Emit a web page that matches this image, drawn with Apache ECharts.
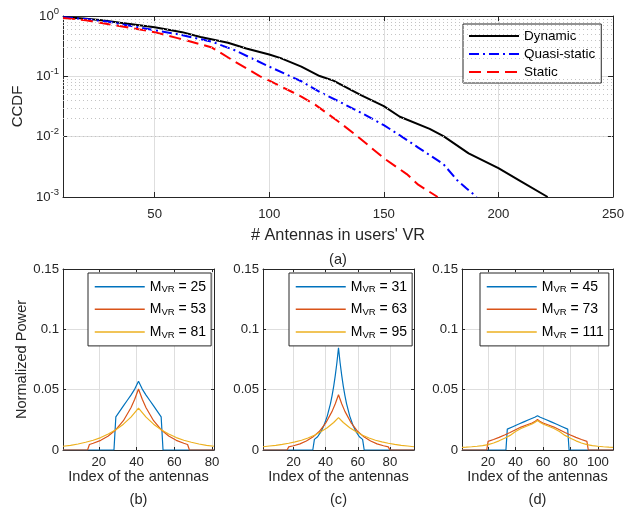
<!DOCTYPE html>
<html><head><meta charset="utf-8">
<script src="https://cdn.jsdelivr.net/npm/echarts@6/dist/echarts.min.js"></script>
<style>html,body{margin:0;padding:0;background:#fff}#c{width:625px;height:509px}</style>
</head><body><div id="c"></div>
<script>
// ---------- Panel (a): CCDF ----------
const topXTicks = [50, 100, 150, 200, 250];
const ccdfMinorGrid = [0.002,0.003,0.004,0.005,0.006,0.007,0.008,0.009,0.02,0.03,0.04,0.05,0.06,0.07,0.08,0.09,0.2,0.3,0.4,0.5,0.6,0.7,0.8,0.9];
const dynX = [10, 20, 26, 35, 50, 62, 70, 82, 90, 100, 105, 114, 122, 128, 140, 150, 157, 170, 176, 187, 200, 210, 221.5];
const dynY = [0.96, 0.9, 0.86, 0.77, 0.65, 0.54, 0.45, 0.36, 0.29, 0.23, 0.2, 0.145, 0.101, 0.085, 0.049, 0.032, 0.0214, 0.0135, 0.0102, 0.0053, 0.003, 0.0018, 0.001];
const qsX = [10, 20, 30, 40, 50, 60, 75, 85, 100, 110, 114, 122, 130, 140, 150, 157, 165, 176, 182, 186, 190.5];
const qsY = [0.95, 0.89, 0.8, 0.68, 0.58, 0.5, 0.375, 0.27, 0.145, 0.097, 0.083, 0.055, 0.039, 0.025, 0.0155, 0.0105, 0.0066, 0.0035, 0.0019, 0.0014, 0.001];
const stX = [10, 20, 30, 40, 50, 60, 70, 75, 85, 96, 100, 110, 114, 120, 130, 138, 150, 160, 165, 173.5];
const stY = [0.93, 0.85, 0.73, 0.63, 0.54, 0.43, 0.34, 0.3, 0.175, 0.1, 0.085, 0.055, 0.046, 0.034, 0.018, 0.0105, 0.0044, 0.0024, 0.0016, 0.001];

// ---------- Panels (b),(c),(d): normalized power ----------
const bTicks = [20, 40, 60, 80];
const cTicks = [20, 40, 60, 80];
const dTicks = [20, 40, 60, 80, 100];

const bBlueX = [1, 28, 29, 31, 33, 35, 37, 39, 41, 43, 45, 47, 49, 51, 53, 54, 81];
const bBlueY = [0, 0, 0.0275, 0.032, 0.0365, 0.041, 0.0455, 0.0505, 0.057, 0.0505, 0.0455, 0.041, 0.0365, 0.032, 0.0275, 0, 0];
const bRedX = [1, 14, 15, 17, 21, 25, 29, 33, 37, 39, 41, 43, 45, 49, 53, 57, 61, 65, 67, 68, 81];
const bRedY = [0, 0, 0.0046, 0.0056, 0.008, 0.0116, 0.0168, 0.0243, 0.035, 0.042, 0.0505, 0.042, 0.035, 0.0243, 0.0168, 0.0116, 0.008, 0.0056, 0.0046, 0, 0];
const bYelX = [1,5,9,13,17,21,25,29,33,37,41,45,49,53,57,61,65,69,73,77,81];
const bYelY = [0.0031,0.0039,0.005,0.0064,0.0081,0.0103,0.0132,0.0168,0.0214,0.0272,0.0347,0.0272,0.0214,0.0168,0.0132,0.0103,0.0081,0.0064,0.005,0.0039,0.0031];

const cBlueX = [1, 32, 33, 35, 37, 39, 41, 43, 44, 45, 46, 47, 48, 49, 50, 51, 52, 53, 55, 57, 59, 61, 63, 64, 95];
const cBlueY = [0, 0, 0.0088, 0.011, 0.015, 0.0205, 0.0281, 0.0385, 0.0451, 0.0528, 0.0618, 0.0723, 0.0847, 0.0723, 0.0618, 0.0528, 0.0451, 0.0385, 0.0281, 0.0205, 0.015, 0.011, 0.0088, 0, 0];
const cRedX = [1, 16, 17, 20, 24, 28, 32, 36, 40, 44, 46, 48, 50, 52, 56, 60, 64, 68, 72, 76, 79, 80, 95];
const cRedY = [0, 0, 0.0026, 0.0035, 0.0051, 0.0074, 0.0107, 0.0153, 0.0222, 0.032, 0.0383, 0.0458, 0.0383, 0.032, 0.0222, 0.0153, 0.0107, 0.0074, 0.0051, 0.0035, 0.0026, 0, 0];
const cYelX = [1,5,9,13,17,21,25,29,33,37,41,45,48,51,55,59,63,67,71,75,79,83,87,91,95];
const cYelY = [0.0027,0.0033,0.0039,0.0047,0.0056,0.0067,0.0081,0.0099,0.0122,0.0151,0.0185,0.0228,0.0268,0.0228,0.0185,0.0151,0.0122,0.0099,0.0081,0.0067,0.0056,0.0047,0.0039,0.0033,0.0027];

const dBlueX = [1, 33, 34, 38, 42, 46, 50, 54, 56, 58, 62, 66, 70, 74, 78, 79, 111];
const dBlueY = [0, 0, 0.0173, 0.0193, 0.0213, 0.0233, 0.0253, 0.0272, 0.0284, 0.0272, 0.0253, 0.0233, 0.0213, 0.0193, 0.0173, 0, 0];
const dRedX = [1, 19, 20, 24, 28, 32, 36, 40, 44, 48, 52, 54, 56, 58, 60, 64, 68, 72, 76, 80, 84, 88, 92, 93, 111];
const dRedY = [0, 0, 0.0071, 0.0087, 0.0105, 0.0124, 0.0145, 0.0168, 0.019, 0.0207, 0.0224, 0.0235, 0.0252, 0.0235, 0.0224, 0.0207, 0.019, 0.0168, 0.0145, 0.0124, 0.0105, 0.0087, 0.0071, 0, 0];
const dYelX = [1,4,8,12,16,20,24,28,32,36,40,44,48,52,54,56,58,60,64,68,72,76,80,84,88,92,96,100,104,108,111];
const dYelY = [0.0022,0.0024,0.0027,0.0031,0.0036,0.0045,0.0058,0.0076,0.0097,0.0121,0.0153,0.0178,0.0197,0.0216,0.0228,0.0245,0.0228,0.0216,0.0197,0.0178,0.0153,0.0121,0.0097,0.0076,0.0058,0.0045,0.0036,0.0031,0.0027,0.0024,0.0022];

const legendA = ['Dynamic', 'Quasi-static', 'Static'];
const legendB = ['M_VR = 25', 'M_VR = 53', 'M_VR = 81'];
const legendC = ['M_VR = 31', 'M_VR = 63', 'M_VR = 95'];
const legendD = ['M_VR = 45', 'M_VR = 73', 'M_VR = 111'];

// ---------- styling ----------
const AX = '#262626';
const F = '"Liberation Sans", Arial, Helvetica, sans-serif';
const GRIDC = '#dedede';
const C1 = '#0072BD', C2 = '#D95319', C3 = '#EDB120';

const zip = (xs, ys) => xs.map((x, i) => [x, ys[i]]);

function mainX(gi, min, max, ticks, name, nameGap, nameSize, margin, tickLen) {
  return {gridIndex: gi, type: 'value', min, max, position: 'bottom',
    axisLine: {show: true, onZero: false, lineStyle: {color: AX, width: 1}},
    axisTick: {show: true, inside: true, length: tickLen, customValues: ticks, lineStyle: {color: AX, width: 1}},
    axisLabel: {show: true, customValues: ticks, color: AX, fontSize: 13.2, fontFamily: F, margin},
    splitLine: {show: true, lineStyle: {color: GRIDC, width: 1}},
    name, nameLocation: 'middle', nameGap, nameTextStyle: {color: AX, fontSize: nameSize, fontFamily: F}};
}
function secX(gi, min, max, ticks, tickLen) {
  return {gridIndex: gi, type: 'value', min, max, position: 'top',
    axisLine: {show: true, onZero: false, lineStyle: {color: AX, width: 1}},
    axisTick: {show: true, inside: true, length: tickLen, customValues: ticks, lineStyle: {color: AX, width: 1}},
    axisLabel: {show: false, customValues: ticks}, splitLine: {show: false}};
}
function powY(gi, name) {
  const o = {gridIndex: gi, type: 'value', min: 0, max: 0.15, interval: 0.05, position: 'left',
    axisLine: {show: true, onZero: false, lineStyle: {color: AX, width: 1}},
    axisTick: {show: true, inside: true, length: 3, lineStyle: {color: AX, width: 1}},
    axisLabel: {show: true, color: AX, fontSize: 13.2, fontFamily: F, margin: 4, showMinLabel: true, showMaxLabel: true},
    splitLine: {show: true, lineStyle: {color: GRIDC, width: 1}}};
  if (name) { o.name = name; o.nameLocation = 'middle'; o.nameGap = 27;
    o.nameTextStyle = {color: AX, fontSize: 14.6, fontFamily: F}; }
  return o;
}
function powYR(gi) {
  return {gridIndex: gi, type: 'value', min: 0, max: 0.15, interval: 0.05, position: 'right',
    axisLine: {show: true, onZero: false, lineStyle: {color: AX, width: 1}},
    axisTick: {show: true, inside: true, length: 3, lineStyle: {color: AX, width: 1}},
    axisLabel: {show: false}, splitLine: {show: false}};
}
function ln(name, xs, ys, xi, color, width, type) {
  return {name, type: 'line', xAxisIndex: xi, yAxisIndex: xi, data: zip(xs, ys),
    symbol: 'none', showSymbol: false, smooth: false, silent: true,
    lineStyle: {color, width, type: type || 'solid'}, itemStyle: {color}};
}
const subFmt = (n) => { const p = n.split(' = '); return '{m|M}{s|VR}{m| = ' + p[1] + '}'; };
const richSub = {
  m: {fontSize: 14, lineHeight: 16, fontFamily: F, color: '#000'},
  s: {fontSize: 9.5, lineHeight: 9.5, verticalAlign: 'bottom', fontFamily: F, color: '#000'}
};
function subLegend(data, left) {
  return {data, orient: 'vertical', left, top: 273, padding: [6.7, 5, 6, 6],
    itemWidth: 50, itemHeight: 16, itemGap: 7.6, selectedMode: false,
    backgroundColor: '#fff', borderColor: AX, borderWidth: 1, borderRadius: 0,
    formatter: subFmt, textStyle: {fontFamily: F, fontSize: 14, color: '#000', rich: richSub},
    itemStyle: {opacity: 0}, lineStyle: {width: 1.5}};
}
const capStyle = (t) => ({text: t, fontSize: 14.6, fontFamily: F, fill: AX, align: 'center', verticalAlign: 'middle', textAlign: 'center', textVerticalAlign: 'middle'});

const option = {
  animation: false,
  backgroundColor: '#fff',
  grid: [
    {left: 63, top: 16, width: 550, height: 181, containLabel: false, outerBoundsMode: 'none'},
    {left: 63, top: 269, width: 151, height: 181, containLabel: false, outerBoundsMode: 'none'},
    {left: 263, top: 269, width: 151, height: 181, containLabel: false, outerBoundsMode: 'none'},
    {left: 462, top: 269, width: 151, height: 181, containLabel: false, outerBoundsMode: 'none'}
  ],
  xAxis: [
    mainX(0, 10, 250, topXTicks, "# Antennas in users' VR", 30.5, 16.3, 11, 5),
    secX(0, 10, 250, topXTicks, 5),
    mainX(1, 1, 81, bTicks, 'Index of the antennas', 14, 14.6, 6, 3),
    secX(1, 1, 81, bTicks, 3),
    mainX(2, 1, 95, cTicks, 'Index of the antennas', 14, 14.6, 6, 3),
    secX(2, 1, 95, cTicks, 3),
    mainX(3, 1, 111, dTicks, 'Index of the antennas', 14, 14.6, 6, 3),
    secX(3, 1, 111, dTicks, 3)
  ],
  yAxis: [
    {gridIndex: 0, type: 'log', logBase: 10, min: 0.001, max: 1, position: 'left',
      axisLine: {show: true, onZero: false, lineStyle: {color: AX, width: 1}},
      axisTick: {show: true, inside: true, length: 5, lineStyle: {color: AX, width: 1}},
      axisLabel: {show: true, margin: 4, showMinLabel: true, showMaxLabel: true,
        formatter: (v) => '{b|10}{e|' + Math.round(Math.log10(v)) + '}',
        rich: {b: {fontSize: 13.2, lineHeight: 20, fontFamily: F, color: AX},
               e: {fontSize: 9.5, lineHeight: 9.5, verticalAlign: 'top', fontFamily: F, color: AX}}},
      splitLine: {show: true, lineStyle: {color: GRIDC, width: 1}},
      name: 'CCDF', nameLocation: 'middle', nameGap: 36, nameTextStyle: {color: AX, fontSize: 15, fontFamily: F}},
    {gridIndex: 0, type: 'log', logBase: 10, min: 0.001, max: 1, position: 'right',
      axisLine: {show: true, onZero: false, lineStyle: {color: AX, width: 1}},
      axisTick: {show: true, inside: true, length: 5, lineStyle: {color: AX, width: 1}},
      axisLabel: {show: false}, splitLine: {show: false}},
    powY(1, 'Normalized Power'), powYR(1),
    powY(2), powYR(2),
    powY(3), powYR(3)
  ],
  legend: [
    {data: legendA, orient: 'vertical', left: 463, top: 24, padding: [5, 6, 4, 5],
      itemWidth: 50, itemHeight: 14, itemGap: 4, selectedMode: false,
      backgroundColor: '#fff', borderColor: AX, borderWidth: 1, borderRadius: 0,
      textStyle: {fontFamily: F, fontSize: 13.5, color: '#000', lineHeight: 14},
      itemStyle: {opacity: 0}, lineStyle: {width: 2}},
    subLegend(legendB, 88),
    subLegend(legendC, 289),
    subLegend(legendD, 480)
  ],
  series: [
    {name: 'minor-grid', type: 'line', xAxisIndex: 0, yAxisIndex: 0, data: [], z: 1, silent: true,
      markLine: {silent: true, symbol: ['none', 'none'], label: {show: false}, animation: false,
        lineStyle: {color: '#c4c4c4', width: 1, type: [1, 3]},
        data: ccdfMinorGrid.map(v => ({yAxis: v}))}},
    ln('Dynamic', dynX, dynY, 0, '#000000', 2, 'solid'),
    ln('Quasi-static', qsX, qsY, 0, '#0000ff', 2, [10, 4, 2, 4]),
    ln('Static', stX, stY, 0, '#ff0000', 2, [12, 6]),
    ln(legendB[0], bBlueX, bBlueY, 2, C1, 1.2), ln(legendB[1], bRedX, bRedY, 2, C2, 1.2), ln(legendB[2], bYelX, bYelY, 2, C3, 1.2),
    ln(legendC[0], cBlueX, cBlueY, 4, C1, 1.2), ln(legendC[1], cRedX, cRedY, 4, C2, 1.2), ln(legendC[2], cYelX, cYelY, 4, C3, 1.2),
    ln(legendD[0], dBlueX, dBlueY, 6, C1, 1.2), ln(legendD[1], dRedX, dRedY, 6, C2, 1.2), ln(legendD[2], dYelX, dYelY, 6, C3, 1.2)
  ],
  graphic: [
    {type: 'text', x: 338, y: 260, style: capStyle('(a)')},
    {type: 'text', x: 138.5, y: 500, style: capStyle('(b)')},
    {type: 'text', x: 338.5, y: 500, style: capStyle('(c)')},
    {type: 'text', x: 537.5, y: 500, style: capStyle('(d)')}
  ]
};
const chart = echarts.init(document.getElementById('c'), null, {renderer: 'canvas'});
chart.setOption(option);
</script>
</body></html>
